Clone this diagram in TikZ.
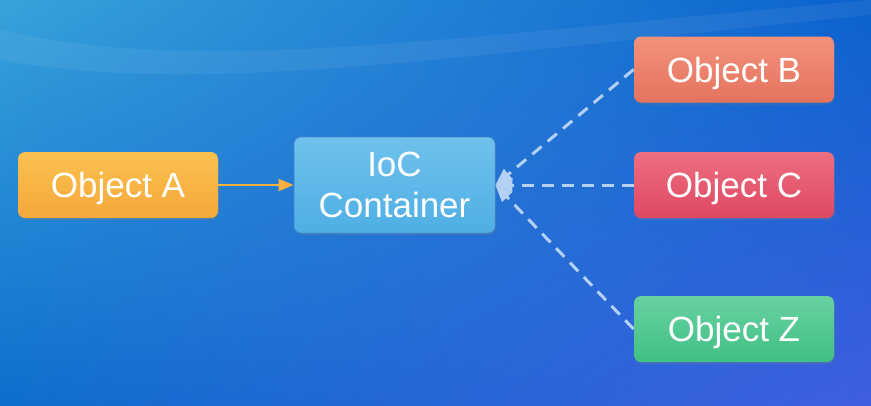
\documentclass[tikz,border=0pt]{standalone}
\usepackage{tikz, xcolor}
\usepackage{fontspec}
\setmainfont{Liberation Sans}
\usetikzlibrary{shapes,arrows,shadows,shadings}

\definecolor{bgTL}{HTML}{38A2DA}
\definecolor{bgTR}{HTML}{0A62CD}
\definecolor{bgBL}{HTML}{0E6ECD}
\definecolor{bgBR}{HTML}{3F5EDF}

\begin{document}
\begin{tikzpicture}[x=1pt, y=-1pt, thick]
\tikzstyle{objbox}=[rectangle, rounded corners=7pt, minimum width=200pt, minimum height=66pt, inner sep=0pt, text=white, font=\fontsize{35}{41}\selectfont, text depth=0pt, drop shadow={opacity=0.25, shadow xshift=1pt, shadow yshift=-2pt}]
\tikzstyle{iocbox}=[objbox, minimum width=201pt, minimum height=96pt, align=center, text depth=, draw=white!40!cyan!60!blue, draw opacity=0.5, line width=1pt, top color={rgb,255:red,112;green,193;blue,236}, bottom color={rgb,255:red,78;green,175;blue,228}]
\tikzstyle{solidarrow}=[line width=2.5pt, draw={rgb,255:red,245;green,176;blue,65}, -triangle 45]
\tikzstyle{dasharrow}=[line width=3pt, draw={rgb,255:red,180;green,208;blue,243}, dash pattern=on 12pt off 8pt, -triangle 45]

% background
\useasboundingbox (0,0) rectangle (871,405);
\shade[upper left=bgTL, upper right=bgTR, lower left=bgBL, lower right=bgBR] (0,0) rectangle (871,405);
\fill[white, opacity=0.06] (0,30) .. controls (200,75) and (420,40) .. (871,0) -- (871,15) .. controls (420,60) and (200,95) .. (0,60) -- cycle;

\node[objbox, top color={rgb,255:red,251;green,193;blue,80}, bottom color={rgb,255:red,244;green,168;blue,58}] (A) at (118,185) {Object A};
\node[iocbox] (IoC) at (394.5,185) {IoC\\Container};
\node[objbox, top color={rgb,255:red,243;green,146;blue,124}, bottom color={rgb,255:red,228;green,115;blue,94}] (B) at (734,69.5) {Object B};
\node[objbox, top color={rgb,255:red,237;green,110;blue,130}, bottom color={rgb,255:red,223;green,72;blue,98}] (C) at (734,185) {Object C};
\node[objbox, top color={rgb,255:red,104;green,209;blue,161}, bottom color={rgb,255:red,64;green,192;blue,132}] (Z) at (734,329) {Object Z};

\draw[solidarrow] (A) -- (IoC);
\draw[dasharrow] (B.west) -- (IoC.east);
\draw[dasharrow] (C.west) -- (IoC.east);
\draw[dasharrow] (Z.west) -- (IoC.east);
\end{tikzpicture}
\end{document}
